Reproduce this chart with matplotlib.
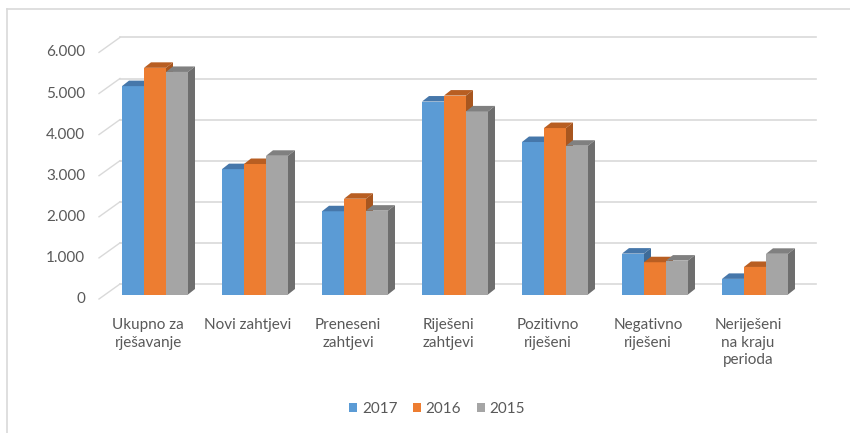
import numpy as np
import matplotlib
matplotlib.use('Agg')
import matplotlib.pyplot as plt
from matplotlib.patches import Polygon, Patch
from matplotlib.lines import Line2D

# 数据
categories = ['Ukupno za\nrješavanje', 'Novi zahtjevi', 'Preneseni\nzahtjevi',
              'Riješeni\nzahtjevi', 'Pozitivno\nriješeni', 'Negativno\nriješeni',
              'Neriješeni\nna kraju\nperioda']
years = ['2017', '2016', '2015']
v2017 = [5070, 3050, 2025, 4695, 3710, 995, 380]
v2016 = [5515, 3175, 2330, 4840, 4050, 785, 670]
v2015 = [5415, 3375, 2040, 4455, 3620, 825, 990]
yticks = [0, 1000, 2000, 3000, 4000, 5000, 6000]
ytick_labels = ['0', '1.000', '2.000', '3.000', '4.000', '5.000', '6.000']

front_cols = ['#5B9BD5', '#ED7D31', '#A5A5A5']
top_cols = ['#4677AA', '#B85E22', '#808080']
side_cols = ['#3E6B98', '#A8561F', '#6E6E6E']
grid_col = '#D9D9D9'
text_col = '#595959'

plt.rcParams['font.family'] = ['Lato', 'DejaVu Sans']
fs = 11

W, H = 850, 433
fig = plt.figure(figsize=(W / 100, H / 100), dpi=100)
# 柱子所在平面: x -0.5..6.5 -> 105..805 px, y 0..6000 -> 294.5..47.9 px
px_x = 100.0
px_y = 0.0411
ax = fig.add_axes([105 / W, (H - 294.5) / H, 700 / W, 6000 * px_y / H])
ax.set_xlim(-0.5, 6.5)
ax.set_ylim(0, 6000)
ax.axis('off')

# 背景墙网格线 + 左侧斜线
back_dx, back_dy = 15 / px_x, 10.5 / px_y
front_dx, front_dy = -6 / px_x, -4.5 / px_y
for v in yticks:
    ax.plot([-0.5 + back_dx, 6.5 + 11 / px_x], [v + back_dy, v + back_dy],
            color=grid_col, lw=1.2, clip_on=False, zorder=1)
    ax.plot([-0.5 + front_dx, -0.5 + back_dx], [v + front_dy, v + back_dy],
            color=grid_col, lw=1.0, clip_on=False, zorder=1)

for v, lab in zip(yticks, ytick_labels):
    ax.text(-0.5 - 20 / px_x, v + front_dy, lab, ha='right', va='center',
            fontsize=fs, color=text_col, clip_on=False)

# 3D 柱子
bw = 0.22
ddx, ddy = 7 / px_x, 5.5 / px_y
x = np.arange(len(categories))
series = [v2017, v2016, v2015]
z = 3
for i in range(len(categories)):
    for j, vals in enumerate(series):
        xl = x[i] + (j - 1) * bw - bw / 2
        xr = xl + bw
        h = vals[i]
        ax.bar(xl + bw / 2, h, width=bw, color=front_cols[j], zorder=z, clip_on=False)
        ax.add_patch(Polygon([(xl, h), (xr, h), (xr + ddx, h + ddy), (xl + ddx, h + ddy)],
                             closed=True, facecolor=top_cols[j], edgecolor='none',
                             zorder=z, clip_on=False))
        ax.add_patch(Polygon([(xr, 0), (xr + ddx, ddy), (xr + ddx, h + ddy), (xr, h)],
                             closed=True, facecolor=side_cols[j], edgecolor='none',
                             zorder=z, clip_on=False))
        z += 1

# x 轴标签
for i, lab in enumerate(categories):
    ax.text(x[i] + front_dx - 0.01, -(318 - 294.5) / px_y, lab, ha='center', va='top',
            fontsize=fs, color=text_col, linespacing=1.32, clip_on=False)

# 图例
handles = [Patch(facecolor=c, edgecolor='none') for c in front_cols]
fig.legend(handles, years, loc='center', bbox_to_anchor=(437 / W, 1 - 409 / H),
           ncol=3, frameon=False, handlelength=0.55, handleheight=0.55,
           handletextpad=0.3, columnspacing=1.0, prop={'size': fs},
           labelcolor=text_col)

# 图表边框
fig.add_artist(Line2D([7 / W, 7 / W], [0, 1 - 9 / H], color=grid_col, lw=1.2,
                      transform=fig.transFigure))
fig.add_artist(Line2D([7 / W, 1], [1 - 9 / H, 1 - 9 / H], color=grid_col, lw=1.2,
                      transform=fig.transFigure))

fig.savefig('out.png', dpi=100)
